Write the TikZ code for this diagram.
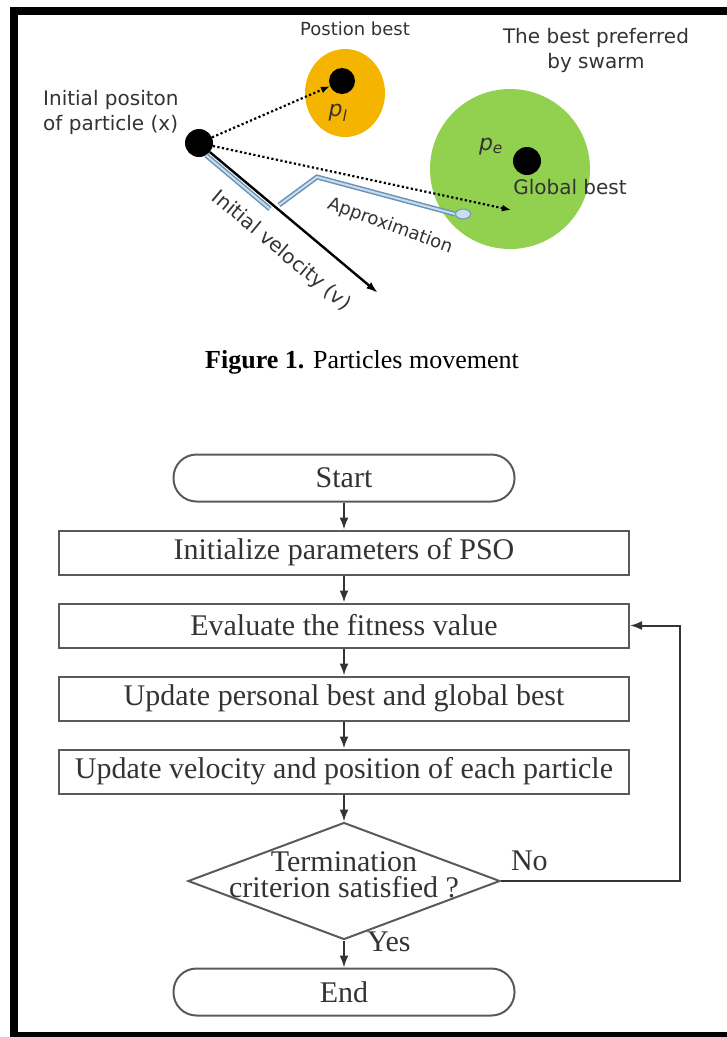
\documentclass[tikz,border=0pt]{standalone}
\usepackage{fontspec}
\setmainfont{Liberation Serif}
\newfontfamily\swarmfont{DejaVu Sans}
\usetikzlibrary{arrows.meta,positioning,shapes.geometric}
\definecolor{orangebest}{HTML}{F4B400}
\definecolor{greenbest}{HTML}{92D050}
\definecolor{steel}{HTML}{6A92B8}
\definecolor{steellight}{HTML}{C9DDEC}
\definecolor{inkgray}{HTML}{333333}
\definecolor{boxgray}{HTML}{5A5A5A}

\begin{document}
\begin{tikzpicture}[x=1pt,y=-1pt,
 node distance=27pt,
 lbl/.style={font=\swarmfont\fontsize{20}{25}\selectfont,text=inkgray,inner sep=0pt},
 smalllbl/.style={lbl,font=\swarmfont\fontsize{18}{22}\selectfont},
 dot/.style={circle,fill=black,minimum size=28pt,inner sep=0pt},
 dotline/.style={line width=2.2pt,dash pattern=on 2.2pt off 2.4pt,-{Latex[length=9pt,width=7pt]}},
 velo/.style={line width=2.4pt,-{Latex[length=12pt,width=8pt]}},
 track/.style={draw=steel,line width=1.5pt,double=steellight,double distance=2pt},
 box/.style={draw=boxgray,line width=2pt,minimum width=570pt,minimum height=44pt,inner sep=2pt,font=\fontsize{30}{34}\selectfont,text=inkgray},
 term/.style={box,rounded corners=23pt,minimum width=341pt,minimum height=47pt},
 flow/.style={draw=black!80,line width=2pt,-{Latex[length=12pt,width=9pt]}},
 flowlbl/.style={inner sep=0pt,font=\fontsize{30}{26}\selectfont,text=inkgray}]
\useasboundingbox (0,0) rectangle (727,1037);
\fill (10,7) rectangle (727,15);
\fill (10,7) rectangle (18,1037);
\fill (10,1032) rectangle (727,1037);

\node[circle,fill=greenbest,minimum size=160pt] (gbest) at (510,169) {};
\node[ellipse,fill=orangebest,minimum width=80pt,minimum height=88pt] (pbest) at (345,93) {};
\node[dot] (xdot) at (199,143) {};
\node[dot,minimum size=26pt] (pdot) at (342,81) {};
\node[dot] (gdot) at (527,161) {};
\node[ellipse,draw=steel,fill=steellight,line width=1pt,minimum width=15pt,minimum height=10pt] (approx) at (463,214) {};
\coordinate (gaim) at (511,210);
\coordinate (vend) at (378,293);
\coordinate (stepa) at (270,209);
\coordinate (stepb) at (279,205);
\coordinate (stepc) at (317,177);
\draw[dotline] (xdot) -- (pdot);
\draw[dotline] (xdot) -- (gaim);
\draw[track] (xdot.-60) -- (stepa);
\draw[track] (stepb) -- (stepc) -- (approx.west);
\draw[velo] (xdot) -- (vend);

\node[lbl,font=\swarmfont\fontsize{18}{22}\selectfont] (ptitle) at (355,29) {Postion best};
\node[lbl,align=center] (gtitle) at (596,50) {The best preferred\\by swarm};
\node[lbl,align=left,anchor=west] (xtitle) at (43,112) {Initial positon\\of particle (x)};
\node[lbl] (gname) at (570,187) {Global best};
\node[lbl,font=\swarmfont\itshape\fontsize{22}{24}\selectfont] (pl) at (338,113) {p\textsubscript{l}};
\node[lbl,font=\swarmfont\itshape\fontsize{22}{24}\selectfont] (pe) at (491,147) {p\textsubscript{e}};
\node[lbl,rotate=-40] (vname) at (281,251) {Initial velocity (v)};
\node[smalllbl,rotate=-20] (aname) at (390,226) {Approximation};

\node[anchor=west,inner sep=0pt,font=\fontsize{26}{30}\selectfont] (caption) at (205,362) {\textbf{Figure 1.} Particles movement};

\node[term] (start) at (344,478) {Start};
\node[box,below=of start] (init) {Initialize parameters of PSO};
\node[box,below=of init] (eval) {Evaluate the fitness value};
\node[box,below=of eval] (upd) {Update personal best and global best};
\node[box,below=of upd] (move) {Update velocity and position of each particle};
\node[diamond,draw=boxgray,line width=2pt,minimum width=312pt,minimum height=117pt,inner sep=0pt,below=of move,
 label={[flowlbl,align=center,yshift=6pt]center:Termination\\criterion satisfied ?}] (check) {};
\node[term,below=of check] (stop) {End};
\draw[flow] (start) -- (init);
\draw[flow] (init) -- (eval);
\draw[flow] (eval) -- (upd);
\draw[flow] (upd) -- (move);
\draw[flow] (move) -- (check);
\draw[flow] (check) -- node[flowlbl,pos=.05,anchor=west,xshift=22pt]{Yes} (stop);
\draw[flow] (check.east) -- node[flowlbl,at start,anchor=south west,xshift=9pt,yshift=9pt]{No} ++(179,0) |- (eval.east);
\end{tikzpicture}
\end{document}
